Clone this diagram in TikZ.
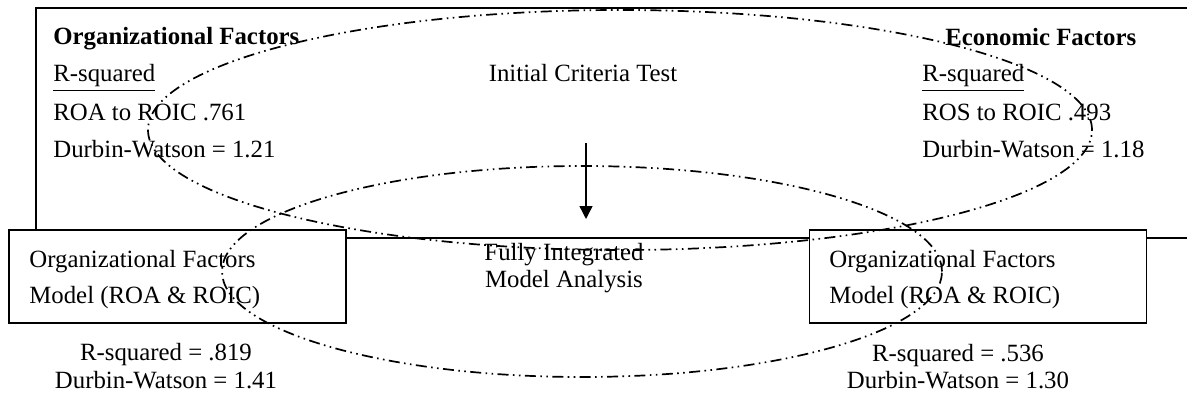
\documentclass[tikz,border=0pt]{standalone}
\usepackage{fontspec}
\setmainfont{Liberation Serif}
\usetikzlibrary{arrows.meta}
\begin{document}
\begin{tikzpicture}[x=0.5pt,y=-0.5pt,
  txt/.style={font=\fontsize{12.4}{14}\selectfont, inner sep=0pt, anchor=base west},
  ctxt/.style={font=\fontsize{12.4}{14}\selectfont, inner sep=0pt, anchor=base},
  frame/.style={line width=0.7pt},
  box/.style={draw, line width=0.7pt, minimum width=168.5pt, minimum height=46.5pt, inner sep=0pt},
  oval/.style={line width=0.85pt, dash pattern=on 5.5pt off 2.2pt on 0.8pt off 2.2pt on 0.8pt off 2.2pt},
  flow/.style={line width=0.7pt, -{Triangle[length=6.5pt,width=6.5pt]}}]
\useasboundingbox (0,0) rectangle (1187,401);
% outer frame
\draw[frame] (36,230) -- (36,8) -- (1187,8);
\draw[frame] (346,238) -- (810,238);
\draw[frame] (1146,238) -- (1187,238);
% boxes
\node[box] (lbox) at (177.5,276.5) {};
\node[box] (rbox) at (978,276.5) {};
% top-left texts
\node[txt] (ofh) at (53,45) {\textbf{Organizational Factors}};
\node[txt] (ofr) at (53,82) {\underline{R-squared}};
\node[txt] (ofv) at (53,120) {ROA to ROIC .761};
\node[txt] (ofd) at (53,157) {Durbin-Watson = 1.21};
% centre
\node[ctxt] (ict) at (583,82) {Initial Criteria Test};
% top-right texts
\node[txt] (efh) at (945,46) {\textbf{Economic Factors}};
\node[txt] (efr) at (922,82) {\underline{R-squared}};
\node[txt] (efv) at (922,120) {ROS to ROIC .493};
\node[txt] (efd) at (922,157) {Durbin-Watson = 1.18};
% box texts
\node[txt] (lb1) at (29,267) {Organizational Factors};
\node[txt] (lb2) at (29,303) {Model (ROA \& ROIC)};
\node[txt] (rb1) at (829,267) {Organizational Factors};
\node[txt] (rb2) at (829,303) {Model (ROA \& ROIC)};
% below boxes
\node[ctxt] (lr) at (166,360) {R-squared = .819};
\node[ctxt] (ld) at (166,388) {Durbin-Watson = 1.41};
\node[ctxt] (rr) at (958,361) {R-squared = .536};
\node[ctxt] (rd) at (958,388) {Durbin-Watson = 1.30};
% fully integrated
\node[ctxt] (fi1) at (564,260) {Fully Integrated};
\node[ctxt] (fi2) at (564,287) {Model Analysis};
% arrow
\coordinate (as) at (586,143);
\coordinate (ae) at (586,219);
\draw[flow] (as) -- (ae);
% ellipses
\draw[oval] (620,130) ellipse [x radius=236pt, y radius=60pt];
\draw[oval] (582,271.5) ellipse [x radius=180pt, y radius=52.75pt];
\end{tikzpicture}
\end{document}
